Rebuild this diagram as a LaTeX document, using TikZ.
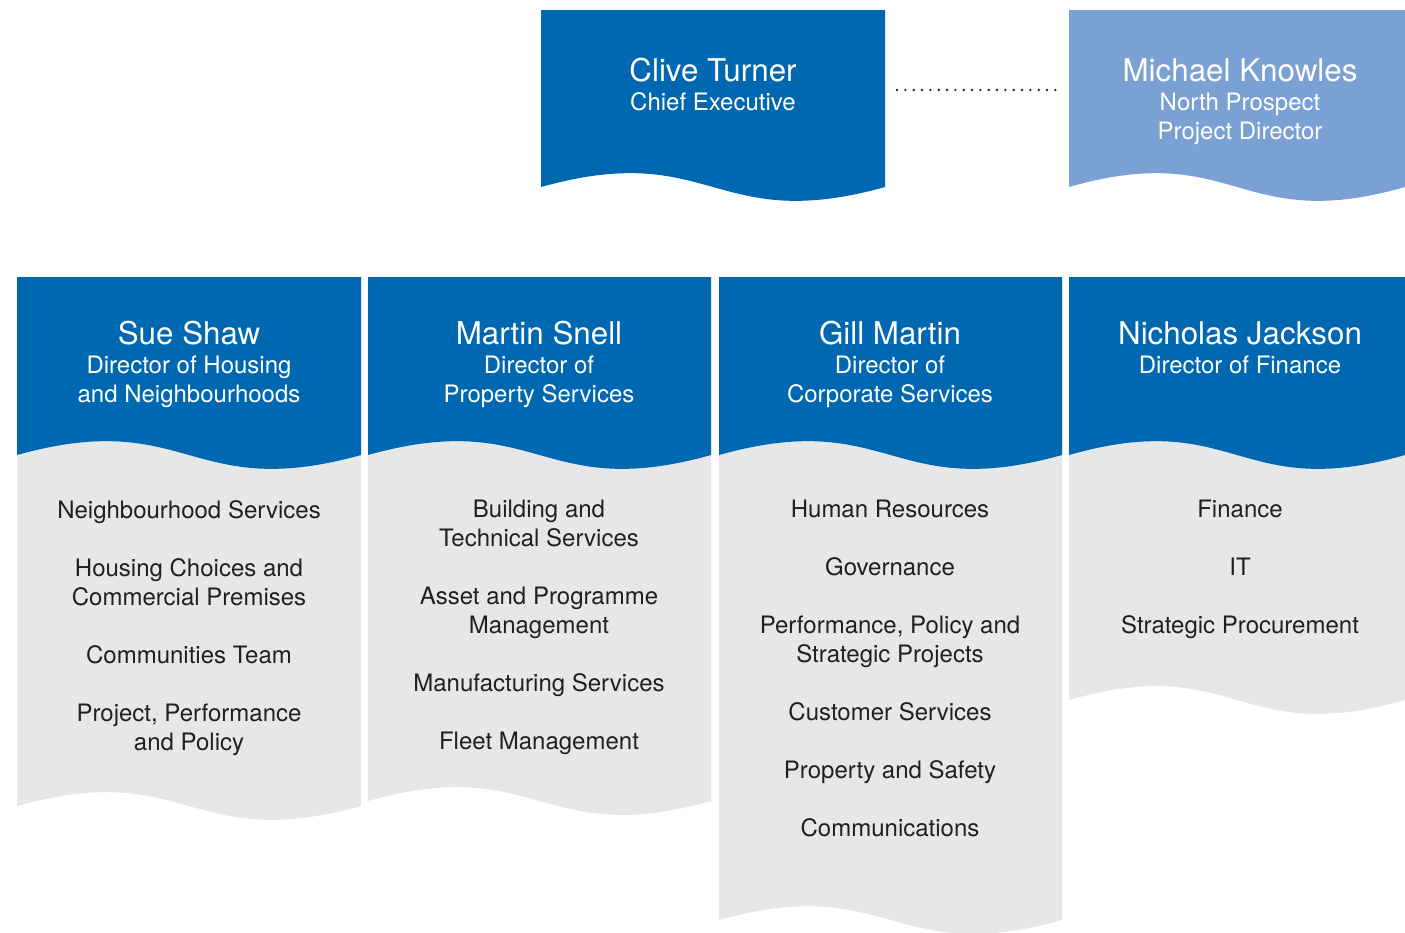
\documentclass[tikz,border=0pt]{standalone}
\usepackage{fontspec}
\setmainfont{TeX Gyre Heros}
\usepackage{tikz}
\usetikzlibrary{calc}

\definecolor{orgblue}{RGB}{0,103,177}
\definecolor{orgpale}{RGB}{123,160,212}
\definecolor{orggrey}{RGB}{230,231,232}
\definecolor{orgtext}{RGB}{35,31,32}

% Panel with a wavy lower edge: colour, left, right, top, bottom.
\newcommand{\wavepanel}[5]{%
  \fill[#1] (#2,#4) -- (#3,#4) -- (#3,#5)
    .. controls ({(#2+#3)/2},{#5+48}) and ({(#2+#3)/2},{#5-48}) .. (#2,#5) -- cycle;}
\newcommand{\headname}[1]{{\fontsize{23.5}{28}\selectfont #1}}

\begin{document}
\begin{tikzpicture}[x=0.75pt,y=-0.75pt]
    % `head' is the white title text in a blue panel.
    % `items' is the list of teams in the grey part below.
    % `dotline' is the dotted link on the top row.
    \tikzstyle{head} = [anchor=north,inner sep=0pt,align=center,text=white,font=\fontsize{18}{21.75}\selectfont]
    \tikzstyle{items} = [anchor=north,inner sep=0pt,align=center,text=orgtext,font=\fontsize{18}{21.75}\selectfont]
    \tikzstyle{dotline} = [line width=2pt,line cap=round,dash pattern=on 0pt off 6.25pt,color=orgtext]
    %
    \useasboundingbox (0,0) rectangle (1405,932);

    % Top row.
    \wavepanel{orgblue}{541}{885}{10}{187}
    \wavepanel{orgpale}{1069}{1405}{10}{187}
    % Directors: grey body first, blue header over it.
    \wavepanel{orggrey}{17}{361}{277}{806}
    \wavepanel{orggrey}{368}{711}{277}{801}
    \wavepanel{orggrey}{719}{1062}{277}{920}
    \wavepanel{orggrey}{1069}{1405}{277}{700}
    \foreach \lx/\rx in {17/361,368/711,719/1062,1069/1405}
      {\wavepanel{orgblue}{\lx}{\rx}{277}{455}}

    \node[head] (clive) at (713,58) {\headname{Clive Turner}\\ Chief Executive};
    \node[head] (michael) at (1240,58) {\headname{Michael Knowles}\\ North Prospect\\ Project Director};

    \node[head] (sue) at (189,321) {\headname{Sue Shaw}\\ Director of Housing\\ and Neighbourhoods};
    \node[head] (martin) at (539,321) {\headname{Martin Snell}\\ Director of\\ Property Services};
    \node[head] (gill) at (890,321) {\headname{Gill Martin}\\ Director of\\ Corporate Services};
    \node[head] (nicholas) at (1240,321) {\headname{Nicholas Jackson}\\ Director of Finance};

    \node[items] (housing) at (189,500) {Neighbourhood Services\\[21.75pt]
      Housing Choices and\\ Commercial Premises\\[21.75pt]
      Communities Team\\[21.75pt]
      Project, Performance\\ and Policy};
    \node[items] (property) at (539,500) {Building and\\ Technical Services\\[21.75pt]
      Asset and Programme\\ Management\\[21.75pt]
      Manufacturing Services\\[21.75pt]
      Fleet Management};
    \node[items] (corporate) at (890,500) {Human Resources\\[21.75pt]
      Governance\\[21.75pt]
      Performance, Policy and\\ Strategic Projects\\[21.75pt]
      Customer Services\\[21.75pt]
      Property and Safety\\[21.75pt]
      Communications};
    \node[items] (finance) at (1240,500) {Finance\\[21.75pt]
      IT\\[21.75pt]
      Strategic Procurement};

    % Dotted link between the two top panels.
    \coordinate (clive-edge) at (897,90);
    \coordinate (michael-edge) at (1057,90);
    \draw[dotline] (clive-edge) -- (michael-edge);
\end{tikzpicture}
\end{document}
